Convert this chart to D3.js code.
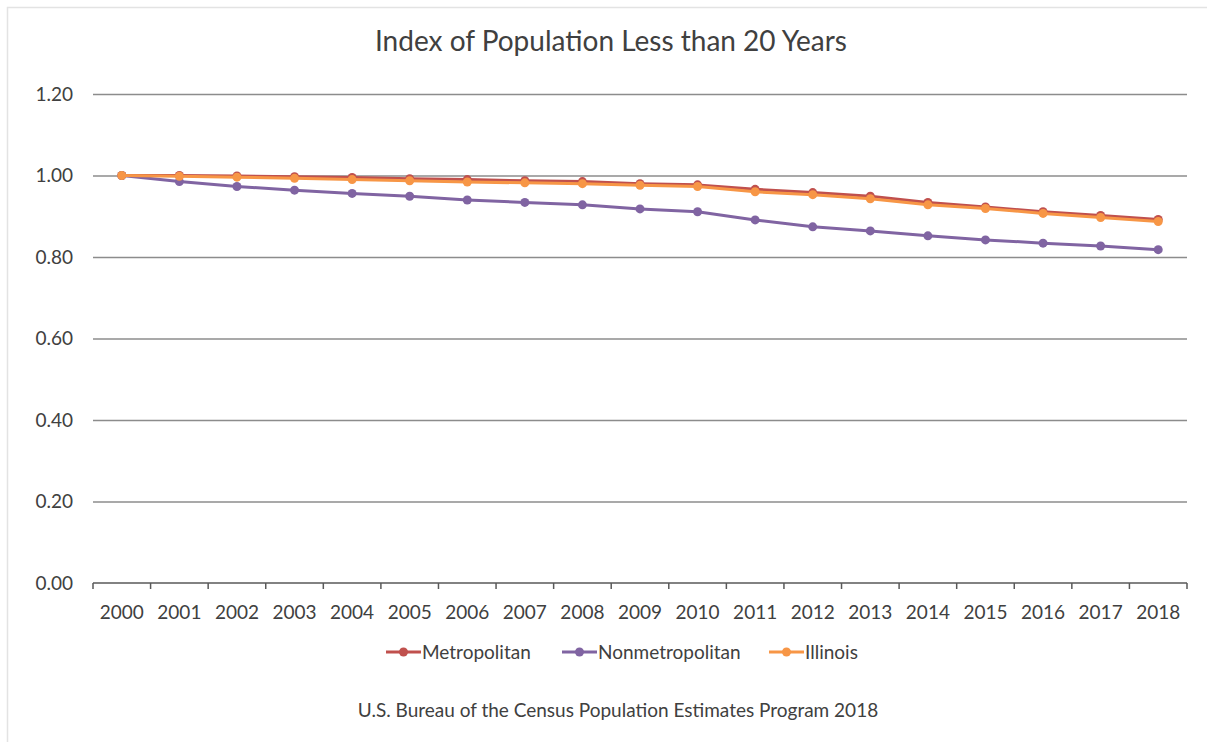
<!DOCTYPE html>
<html>
<head>
<meta charset="utf-8">
<script src="https://cdn.jsdelivr.net/npm/d3@7"></script>
<style>
  html, body { margin: 0; padding: 0; background: #ffffff; }
  svg { display: block; font-family: Lato, "Open Sans", sans-serif; }
</style>
</head>
<body>
<svg id="chart" width="1207" height="742"></svg>
<script>
// Population under 20, indexed to 2000 = 1.00
const years = ["2000","2001","2002","2003","2004","2005","2006","2007","2008","2009",
               "2010","2011","2012","2013","2014","2015","2016","2017","2018"];
const metropolitan    = [1.000, 1.000, 0.999, 0.997, 0.995, 0.992, 0.990, 0.987, 0.985, 0.980,
                         0.977, 0.966, 0.958, 0.949, 0.934, 0.923, 0.911, 0.902, 0.892];
const nonmetropolitan = [1.000, 0.985, 0.973, 0.964, 0.956, 0.949, 0.940, 0.934, 0.928, 0.918,
                         0.911, 0.891, 0.874, 0.864, 0.852, 0.842, 0.834, 0.827, 0.818];
const illinois        = [1.000, 0.998, 0.996, 0.993, 0.990, 0.987, 0.984, 0.982, 0.980, 0.976,
                         0.973, 0.960, 0.953, 0.943, 0.928, 0.919, 0.907, 0.897, 0.887];
const yTicks = [0, 0.2, 0.4, 0.6, 0.8, 1.0, 1.2];

const seriesNames  = ["Metropolitan", "Nonmetropolitan", "Illinois"];
const seriesValues = [metropolitan, nonmetropolitan, illinois];
const seriesColors = ["#c0504d", "#8064a2", "#f79646"];

const svg = d3.select("#chart");
const textColor = "#404040";

// outer chart frame (top and left edges fall inside the view)
svg.append("rect")
  .attr("x", 7.5).attr("y", 7.5).attr("width", 1220).attr("height", 760)
  .attr("fill", "#ffffff").attr("stroke", "#e3e3e3").attr("stroke-width", 1.5);

const plot = { left: 93, right: 1187, top: 94, bottom: 583 };

const x = d3.scaleBand().domain(years).range([plot.left, plot.right]).paddingInner(0).paddingOuter(0);
const y = d3.scaleLinear().domain([0, 1.2]).range([plot.bottom, plot.top]);

// title
svg.append("text")
  .attr("x", 611).attr("y", 51)
  .attr("text-anchor", "middle")
  .attr("font-size", 28)
  .attr("fill", textColor)
  .text("Index of Population Less than 20 Years");

// horizontal gridlines + value labels
const yAxis = d3.axisLeft(y)
  .tickValues(yTicks)
  .tickFormat(d3.format(".2f"))
  .tickSize(-(plot.right - plot.left))
  .tickPadding(20);
const gy = svg.append("g").attr("transform", `translate(${plot.left},0)`).call(yAxis);
gy.select(".domain").remove();
gy.selectAll(".tick line").attr("stroke", "#8c8c8c").attr("stroke-width", 1.5)
  .filter(d => d === 0).remove();
gy.selectAll(".tick text").attr("font-size", 19).attr("fill", textColor)
  .attr("font-family", "Lato, 'Open Sans', sans-serif");

// category axis with ticks between categories
const xAxis = d3.axisBottom(x).tickSize(0).tickPadding(23);
const gx = svg.append("g").attr("transform", `translate(0,${plot.bottom})`).call(xAxis);
gx.select(".domain").attr("stroke", "#595959").attr("stroke-width", 1.5)
  .attr("d", `M${plot.left},0H${plot.right}`);
gx.selectAll(".tick text").attr("font-size", 19).attr("fill", textColor)
  .attr("font-family", "Lato, 'Open Sans', sans-serif");
const boundaries = years.map(d => x(d)).concat([x(years[years.length - 1]) + x.bandwidth()]);
gx.selectAll("line.sep").data(boundaries).join("line")
  .attr("class", "sep")
  .attr("x1", d => d).attr("x2", d => d)
  .attr("y1", 0).attr("y2", 6)
  .attr("stroke", "#595959").attr("stroke-width", 1.5);

// series lines and markers
const cx = d => x(d) + x.bandwidth() / 2;
const line = d3.line().x((v, i) => cx(years[i])).y(v => y(v));

seriesValues.forEach((vals, s) => {
  const g = svg.append("g");
  g.append("path")
    .datum(vals)
    .attr("d", line)
    .attr("fill", "none")
    .attr("stroke", seriesColors[s])
    .attr("stroke-width", 3)
    .attr("stroke-linejoin", "round");
  g.selectAll("circle").data(vals).join("circle")
    .attr("cx", (v, i) => cx(years[i]))
    .attr("cy", v => y(v))
    .attr("r", 4.5)
    .attr("fill", seriesColors[s]);
});

// legend
const legendX = [386, 562, 769];
const legend = svg.append("g").attr("transform", "translate(0,652)");
seriesNames.forEach((name, s) => {
  const lg = legend.append("g").attr("transform", `translate(${legendX[s]},0)`);
  lg.append("line").attr("x1", 0).attr("x2", 35).attr("y1", 0).attr("y2", 0)
    .attr("stroke", seriesColors[s]).attr("stroke-width", 3);
  lg.append("circle").attr("cx", 17.5).attr("cy", 0).attr("r", 4.5).attr("fill", seriesColors[s]);
  lg.append("text").attr("x", 36).attr("y", 7)
    .attr("font-size", 19).attr("fill", textColor).text(name);
});

// source note
svg.append("text")
  .attr("x", 618).attr("y", 717)
  .attr("text-anchor", "middle")
  .attr("font-size", 19)
  .attr("fill", textColor)
  .text("U.S. Bureau of the Census Population Estimates Program 2018");
</script>
</body>
</html>
